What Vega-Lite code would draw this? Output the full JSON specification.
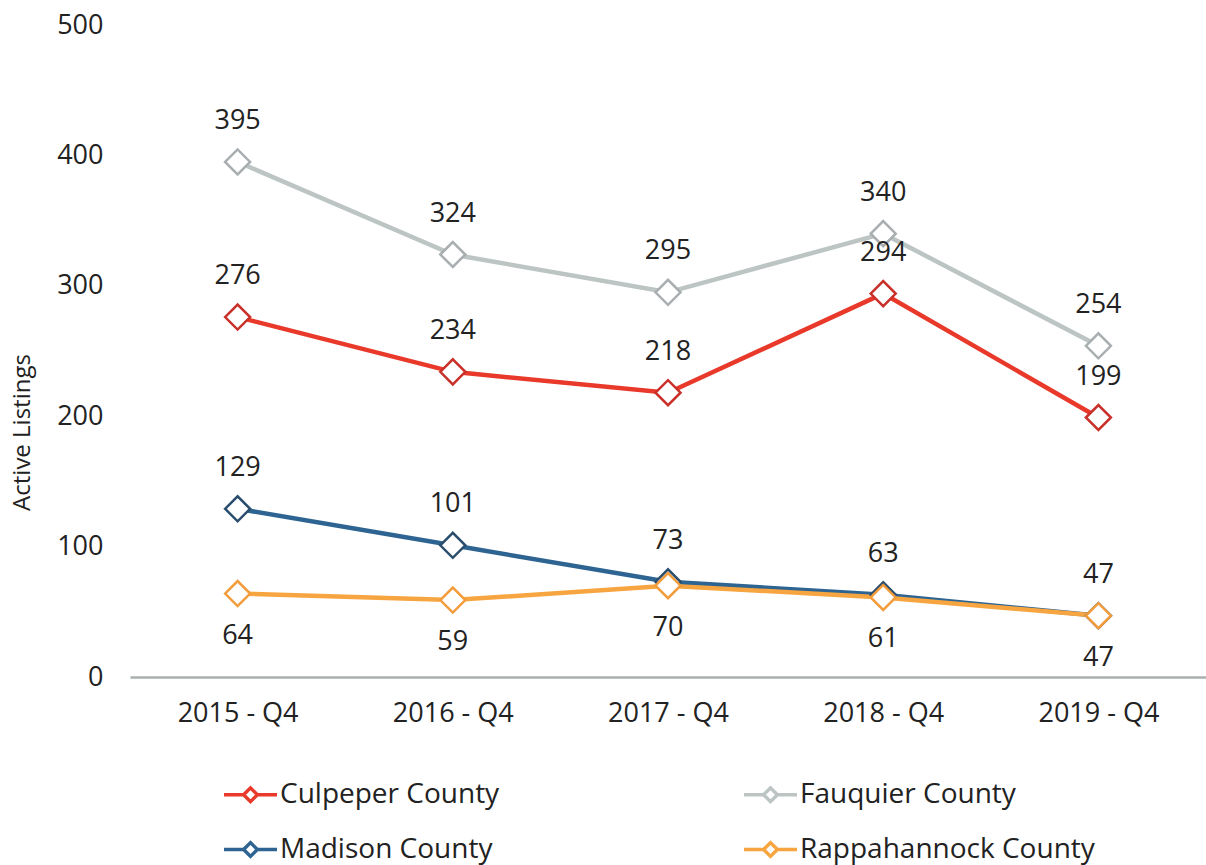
{
  "$schema": "https://vega.github.io/schema/vega-lite/v6.json",
  "autosize": {"type": "none"},
  "width": 1076,
  "height": 652,
  "padding": {"left": 130, "top": 25, "right": 0, "bottom": 188},
  "background": "white",
  "config": {
    "font": "Open Sans",
    "view": {"stroke": null},
    "axis": {"grid": false, "ticks": false, "labelColor": "#222222", "titleColor": "#222222", "labelFont": "Open Sans", "titleFont": "Open Sans"}
  },
  "data": {
    "values": [
      {"quarter": "2015 - Q4", "county": "Culpeper County", "listings": 276},
      {"quarter": "2016 - Q4", "county": "Culpeper County", "listings": 234},
      {"quarter": "2017 - Q4", "county": "Culpeper County", "listings": 218},
      {"quarter": "2018 - Q4", "county": "Culpeper County", "listings": 294},
      {"quarter": "2019 - Q4", "county": "Culpeper County", "listings": 199},
      {"quarter": "2015 - Q4", "county": "Fauquier County", "listings": 395},
      {"quarter": "2016 - Q4", "county": "Fauquier County", "listings": 324},
      {"quarter": "2017 - Q4", "county": "Fauquier County", "listings": 295},
      {"quarter": "2018 - Q4", "county": "Fauquier County", "listings": 340},
      {"quarter": "2019 - Q4", "county": "Fauquier County", "listings": 254},
      {"quarter": "2015 - Q4", "county": "Madison County", "listings": 129},
      {"quarter": "2016 - Q4", "county": "Madison County", "listings": 101},
      {"quarter": "2017 - Q4", "county": "Madison County", "listings": 73},
      {"quarter": "2018 - Q4", "county": "Madison County", "listings": 63},
      {"quarter": "2019 - Q4", "county": "Madison County", "listings": 47},
      {"quarter": "2015 - Q4", "county": "Rappahannock County", "listings": 64},
      {"quarter": "2016 - Q4", "county": "Rappahannock County", "listings": 59},
      {"quarter": "2017 - Q4", "county": "Rappahannock County", "listings": 70},
      {"quarter": "2018 - Q4", "county": "Rappahannock County", "listings": 61},
      {"quarter": "2019 - Q4", "county": "Rappahannock County", "listings": 47}
    ]
  },
  "encoding": {
    "x": {
      "field": "quarter", "type": "ordinal", "scale": {"type": "point", "padding": 0.5},
      "axis": {"title": null, "labelAngle": 0, "labelFontSize": 27, "labelPadding": 23, "domainColor": "#a9b0b0", "domainWidth": 2.5}
    },
    "y": {
      "field": "listings", "type": "quantitative", "scale": {"domain": [0, 500], "nice": false},
      "axis": {"title": "Active Listings", "values": [0, 100, 200, 300, 400, 500], "domain": false, "labelFontSize": 27, "labelPadding": 27, "titleFontSize": 24, "titleFontWeight": "normal", "titleX": -108, "titleY": 407, "titleAngle": 270, "titleAlign": "center", "titleBaseline": "middle"}
    }
  },
  "layer": [
    {
      "mark": {"type": "line", "strokeWidth": 4.5},
      "encoding": {
        "color": {
          "field": "county", "type": "nominal",
          "scale": {"domain": ["Culpeper County", "Fauquier County", "Madison County", "Rappahannock County"], "range": ["#e8392b", "#bcc5c4", "#2e6491", "#f7a540"]},
          "legend": {
            "title": null, "orient": "none", "legendX": 92, "legendY": 741, "columns": 2, "direction": "horizontal",
            "symbolType": "M-1,0L-0.26,0M0.26,0L1,0M-0.26,0L0,-0.26L0.26,0L0,0.26Z",
            "symbolSize": 2809, "symbolStrokeWidth": 3.5, "symbolFillColor": "white",
            "labelFontSize": 28, "labelColor": "#222222", "labelOffset": 1, "labelLimit": 400,
            "columnPadding": 237, "rowPadding": 12, "padding": 0, "gridAlign": "each",
            "encode": {"symbols": {"update": {"fill": {"value": "white"}}}}
          }
        }
      }
    },
    {
      "mark": {"type": "point", "shape": "diamond", "size": 625, "filled": false, "fill": "white", "fillOpacity": 1, "opacity": 1, "strokeWidth": 2.5},
      "encoding": {
        "stroke": {
          "field": "county", "type": "nominal",
          "scale": {"domain": ["Culpeper County", "Fauquier County", "Madison County", "Rappahannock County"], "range": ["#c9302a", "#a9aeb0", "#2b4d6d", "#f39c3c"]},
          "legend": null
        }
      }
    },
    {
      "transform": [{"filter": "datum.county !== 'Rappahannock County'"}],
      "mark": {"type": "text", "dy": -41, "fontSize": 27, "color": "#222222"},
      "encoding": {"text": {"field": "listings", "type": "quantitative"}}
    },
    {
      "transform": [{"filter": "datum.county === 'Rappahannock County'"}],
      "mark": {"type": "text", "dy": 42, "fontSize": 27, "color": "#222222"},
      "encoding": {"text": {"field": "listings", "type": "quantitative"}}
    }
  ]
}
